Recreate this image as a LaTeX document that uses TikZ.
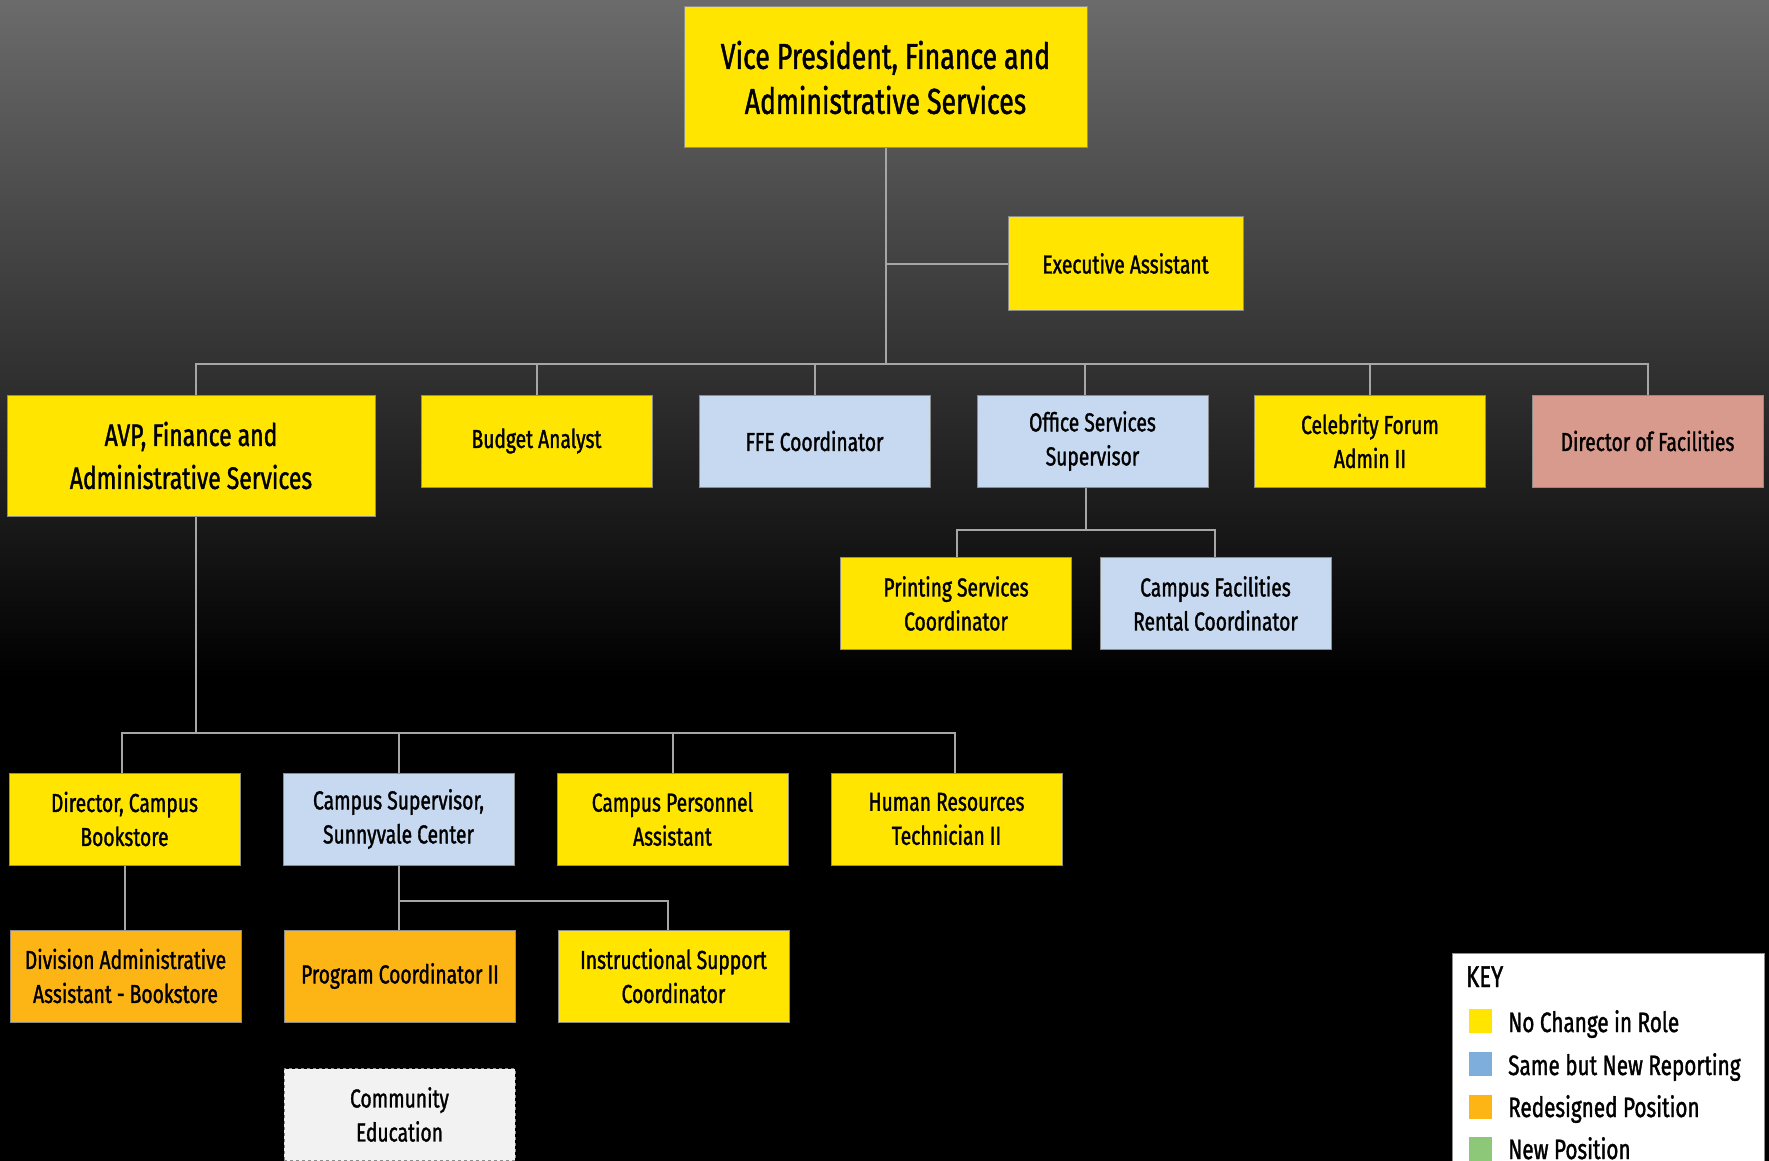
\documentclass[tikz,border=0pt]{standalone}
\usepackage{fontspec}
\setmainfont{Fira Sans}[FakeStretch=0.74, FakeBold=1.3]
\definecolor{yel}{HTML}{FFE500}
\definecolor{lblue}{HTML}{C6D9F1}
\definecolor{orng}{HTML}{FDB515}
\definecolor{pink}{HTML}{D99A8E}
\definecolor{keyblue}{HTML}{7DAEDC}
\definecolor{keygreen}{HTML}{8DC878}
\definecolor{boxline}{HTML}{8C8C8C}
\definecolor{connc}{HTML}{A6A6A6}
\definecolor{bgtop}{HTML}{6B6B6B}
\tikzset{
  box/.style={draw=boxline, line width=1pt, minimum width=231, minimum height=92,
    inner sep=0pt, align=center, text=black, font=\fontsize{26}{34}\selectfont},
  yb/.style={box, fill=yel},
  bb/.style={box, fill=lblue},
  ob/.style={box, fill=orng},
  conn/.style={draw=connc, line width=2pt},
  keysq/.style={minimum width=23, minimum height=24, inner sep=0pt},
  keytxt/.style={anchor=base west, inner sep=0pt, text=black, font=\fontsize{28}{34}\selectfont}
}
\begin{document}
\begin{tikzpicture}[x=1pt,y=-1pt]
\useasboundingbox (0,0) rectangle (1769,1161);
\shade[top color=bgtop, bottom color=black] (0,0) rectangle (1769,680);
\fill[black] (0,679) rectangle (1769,1161);

% nodes
\node[yb, minimum width=403, minimum height=141, font=\fontsize{36}{45}\selectfont] (vp) at (885.5,77.5) {Vice President, Finance and\\Administrative Services};
\node[yb, minimum width=235, minimum height=93] (ea) at (1125.5,263.5) {Executive Assistant};

\node[yb, minimum width=368, minimum height=121, font=\fontsize{31}{43}\selectfont] (avp) at (191,455.5) {AVP, Finance and\\Administrative Services};
\node[yb] (ba) at (536.5,441) {Budget Analyst};
\node[bb] (ffe) at (814.5,441) {FFE Coordinator};
\node[bb] (oss) at (1092.5,441) {Office Services\\Supervisor};
\node[yb] (cf) at (1370,441) {Celebrity Forum\\Admin II};
\node[box, fill=pink] (dof) at (1647.5,441) {Director of Facilities};

\node[yb] (psc) at (956,603.5) {Printing Services\\Coordinator};
\node[bb] (cfrc) at (1215.5,603.5) {Campus Facilities\\Rental Coordinator};

\node[yb] (dcb) at (124.5,819) {Director, Campus\\Bookstore};
\node[bb] (cs) at (398.5,819) {Campus Supervisor,\\Sunnyvale Center};
\node[yb] (cpa) at (672.5,819) {Campus Personnel\\Assistant};
\node[yb] (hr) at (946.5,819) {Human Resources\\Technician II};

\node[ob] (daa) at (125.5,976) {Division Administrative\\Assistant - Bookstore};
\node[ob] (pc) at (400,976) {Program Coordinator II};
\node[yb] (isc) at (673.5,976) {Instructional Support\\Coordinator};

\node[box, fill=white!95!black, draw=boxline, dashed] (ce) at (399.5,1114.5) {Community\\Education};

% connectors: top
\coordinate (bus1) at (0,364);
\draw[conn] (vp.south) |- (ea.west);
\draw[conn] (vp.south) -- (vp.south |- bus1);
\draw[conn] ([xshift=5pt]avp.north) -- ([xshift=5pt]avp.north |- bus1) -- (dof.north |- bus1) -- (dof.north);
\foreach \n in {ba,ffe,cf} { \draw[conn] (\n.north) -- (\n.north |- bus1); }
\draw[conn] ([xshift=-8pt]oss.north) -- ([xshift=-8pt]oss.north |- bus1);

% office services children
\coordinate (bus2) at (0,530);
\draw[conn] ([xshift=-7pt]oss.south) -- ([xshift=-7pt]oss.south |- bus2);
\draw[conn] ([xshift=1pt]psc.north) -- ([xshift=1pt]psc.north |- bus2) -- ([xshift=-1pt]cfrc.north |- bus2) -- ([xshift=-1pt]cfrc.north);

% AVP children
\coordinate (bus3) at (0,733);
\draw[conn] ([xshift=5pt]avp.south) -- ([xshift=5pt]avp.south |- bus3);
\draw[conn] ([xshift=-3pt]dcb.north) -- ([xshift=-3pt]dcb.north |- bus3) -- ([xshift=8pt]hr.north |- bus3) -- ([xshift=8pt]hr.north);
\draw[conn] (cs.north) -- (cs.north |- bus3);
\draw[conn] (cpa.north) -- (cpa.north |- bus3);

% lower
\draw[conn] (dcb.south) -- (dcb.south |- daa.north);
\coordinate (bus4) at (0,901);
\draw[conn] (cs.south) -- (cs.south |- pc.north);
\draw[conn] (cs.south |- bus4) -| ([xshift=-6pt]isc.north);

% key
\node[draw=boxline, line width=1pt, fill=white, minimum width=312, minimum height=220, inner sep=0pt, anchor=north west] (key) at (1452,953) {};
\node[keytxt, font=\fontsize{30}{34}\selectfont] (keyt) at (1466,987) {KEY};
\node[keysq, fill=yel] (k1) at (1480.5,1021) {};
\node[keysq, fill=keyblue] (k2) at (1480.5,1064) {};
\node[keysq, fill=orng] (k3) at (1480.5,1107) {};
\node[keysq, fill=keygreen] (k4) at (1480.5,1149) {};
\node[keytxt] (t1) at (1508,1032) {No Change in Role};
\node[keytxt] (t2) at (1508,1075) {Same but New Reporting};
\node[keytxt] (t3) at (1508,1117) {Redesigned Position};
\node[keytxt] (t4) at (1508,1159) {New Position};
\end{tikzpicture}
\end{document}
